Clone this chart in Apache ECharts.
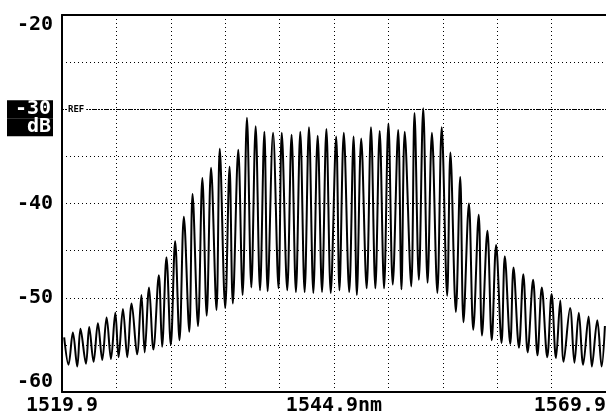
<!DOCTYPE html>
<html>
<head>
<meta charset="utf-8">
<script src="https://cdn.jsdelivr.net/npm/echarts@6/dist/echarts.min.js"></script>
<style>
  html, body { margin: 0; padding: 0; background: #fff; }
  #chart { width: 606px; height: 412px; }
</style>
</head>
<body>
<div id="chart"></div>
<script>
// wavelength span of the screen
var startNm = 1519.9;
var spanNm = 50;

// tops of the ripple (nm, dB)
var peakNm = [1520.1, 1520.9, 1521.6, 1522.4, 1523.2, 1524.0, 1524.8, 1525.5, 1526.3, 1527.2,
  1527.9, 1528.8, 1529.5, 1530.3, 1531.1, 1531.9, 1532.8, 1533.6, 1534.4, 1535.3,
  1536.1, 1536.9, 1537.7, 1538.5, 1539.3, 1540.1, 1541.0, 1541.8, 1542.6, 1543.4,
  1544.2, 1545.1, 1545.8, 1546.7, 1547.4, 1548.3, 1549.1, 1549.9, 1550.8, 1551.4,
  1552.3, 1553.1, 1553.9, 1554.8, 1555.6, 1556.5, 1557.3, 1558.2, 1559.0, 1559.8,
  1560.6, 1561.4, 1562.3, 1563.2, 1564.0, 1564.9, 1565.7, 1566.6, 1567.4, 1568.3,
  1569.1, 1569.8];
var peakDb = [-54.2, -53.7, -53.3, -53.1, -52.7, -52.1, -51.6, -51.2, -50.6, -49.7,
  -48.9, -47.6, -45.7, -44.0, -41.4, -39.0, -37.3, -36.2, -34.2, -36.1,
  -34.3, -30.9, -31.8, -32.4, -32.5, -32.5, -32.7, -32.4, -31.9, -32.8,
  -32.1, -32.9, -32.5, -32.9, -33.1, -31.9, -32.3, -31.5, -32.2, -32.4,
  -30.4, -29.9, -32.5, -31.9, -34.6, -37.2, -40.0, -41.2, -42.9, -44.4,
  -45.6, -46.8, -47.5, -48.1, -48.9, -49.6, -50.3, -51.1, -51.6, -52.0,
  -52.4, -53.0];

// bottoms of the ripple (nm, dB)
var troughNm = [1520.5, 1521.3, 1522.1, 1522.8, 1523.6, 1524.4, 1525.1, 1525.9, 1526.8, 1527.5,
  1528.3, 1529.1, 1529.9, 1530.7, 1531.6, 1532.4, 1533.2, 1534.1, 1534.9, 1535.6,
  1536.5, 1537.3, 1538.1, 1538.8, 1539.8, 1540.6, 1541.4, 1542.2, 1543.0, 1543.8,
  1544.6, 1545.4, 1546.3, 1547.0, 1547.9, 1548.7, 1549.5, 1550.3, 1551.1, 1552.0,
  1552.7, 1553.5, 1554.4, 1555.3, 1556.1, 1556.8, 1557.7, 1558.5, 1559.4, 1560.3,
  1561.1, 1561.9, 1562.7, 1563.6, 1564.5, 1565.3, 1566.0, 1567.0, 1567.8, 1568.6,
  1569.5];
var troughDb = [-57.1, -57.3, -57.0, -56.8, -56.6, -56.5, -56.3, -56.3, -56.0, -55.8,
  -55.5, -55.2, -55.0, -54.5, -53.6, -53.0, -51.9, -51.3, -51.1, -50.6,
  -49.7, -48.9, -49.2, -49.3, -49.0, -49.2, -49.4, -49.4, -49.5, -49.4,
  -49.5, -49.2, -49.4, -49.7, -49.0, -49.0, -49.0, -48.6, -49.1, -48.8,
  -48.1, -48.4, -49.5, -49.8, -51.5, -52.6, -53.4, -54.0, -54.5, -54.8,
  -54.9, -55.3, -55.8, -56.1, -56.3, -56.4, -56.8, -56.9, -57.1, -57.3,
  -57.3];

// axis texts
var xLabelAt = [0, 25, 50];
var xLabelText = ['1519.9', '1544.9nm', '1569.9'];
var yLabelAt = [-20, -40, -50, -60];
var refLevel = -30;

var mono = 'DejaVu Sans Mono';

// zig-zag the trace: peak, trough, peak ...
var trace = [];
for (var i = 0; i < peakNm.length; i++) {
  trace.push([+(peakNm[i] - startNm).toFixed(2), peakDb[i]]);
  if (i < troughNm.length) {
    trace.push([+(troughNm[i] - startNm).toFixed(2), troughDb[i]]);
  }
}

var myChart = echarts.init(document.getElementById('chart'));
var option = {
  animation: false,
  backgroundColor: '#fff',
  grid: { left: 62, right: 0, top: 15, bottom: 20, containLabel: false, outerBoundsMode: 'none' },
  xAxis: [{
    type: 'value',
    min: 0,
    max: spanNm,
    interval: 5,
    axisLine: { show: true, lineStyle: { color: '#000', width: 2 } },
    axisTick: { show: false },
    splitLine: { show: true, lineStyle: { color: '#000', type: [1, 3], width: 1 } },
    axisLabel: {
      margin: 4,
      fontFamily: mono,
      fontWeight: 'bold',
      fontSize: 20,
      color: '#000',
      alignMinLabel: 'center',
      alignMaxLabel: 'right',
      formatter: function (v) {
        var k = xLabelAt.indexOf(Math.round(v));
        return k >= 0 ? xLabelText[k] : '';
      }
    }
  }, {
    type: 'value',
    position: 'top',
    min: 0,
    max: spanNm,
    axisLine: { show: true, lineStyle: { color: '#000', width: 2 } },
    axisTick: { show: false },
    axisLabel: { show: false },
    splitLine: { show: false }
  }],
  yAxis: {
    type: 'value',
    min: -60,
    max: -20,
    interval: 5,
    axisLine: { show: true, lineStyle: { color: '#000', width: 2 } },
    axisTick: { show: false },
    splitLine: { show: true, lineStyle: { color: '#000', type: [1, 3], width: 1 } },
    axisLabel: {
      margin: 9,
      fontFamily: mono,
      fontWeight: 'bold',
      fontSize: 20,
      color: '#000',
      verticalAlignMinLabel: 'bottom',
      verticalAlignMaxLabel: 'top',
      formatter: function (v) {
        // blank first line so the "-30" row sits on the REF level
        if (v === refLevel) return '{sp| }\n{box|-30}\n{box|dB}';
        return yLabelAt.indexOf(v) >= 0 ? String(v) : '';
      },
      rich: {
        sp: {
          width: 44,
          height: 18,
          lineHeight: 18,
          padding: [0, 2, 0, 0]
        },
        box: {
          backgroundColor: '#000',
          color: '#fff',
          fontFamily: mono,
          fontWeight: 'bold',
          fontSize: 20,
          width: 44,
          height: 18,
          lineHeight: 18,
          align: 'right',
          padding: [0, 2, 0, 0]
        }
      }
    }
  },
  series: [{
    type: 'line',
    data: trace,
    smooth: 0.35,
    showSymbol: false,
    lineStyle: { color: '#000', width: 2 },
    markLine: {
      silent: true,
      symbol: 'none',
      lineStyle: { color: '#000', type: [2, 1], width: 1 },
      label: {
        show: true,
        position: 'insideStart',
        formatter: 'REF',
        fontFamily: mono,
        fontWeight: 'bold',
        fontSize: 9,
        color: '#000',
        backgroundColor: '#fff',
        padding: [0, 2, 0, 1]
      },
      data: [{ yAxis: refLevel }]
    }
  }]
};
myChart.setOption(option);
</script>
</body>
</html>
